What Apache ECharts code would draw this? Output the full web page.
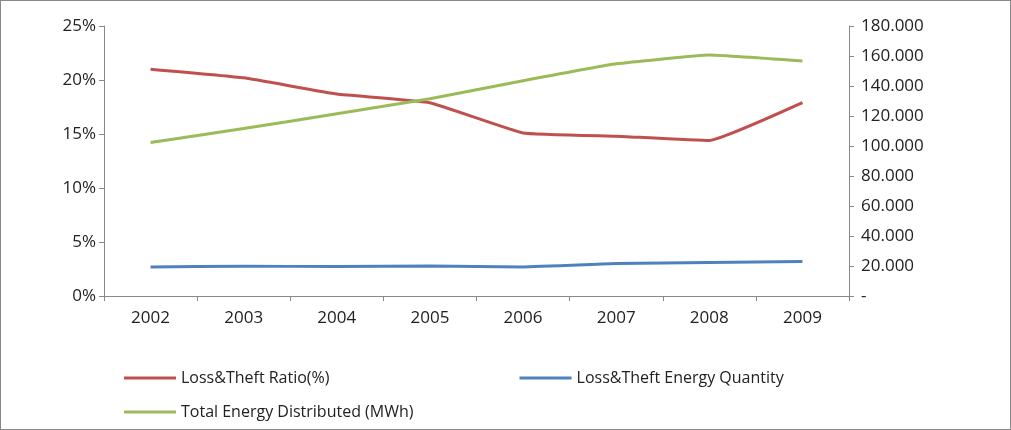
<!DOCTYPE html>
<html>
<head>
<meta charset="utf-8">
<script src="https://cdn.jsdelivr.net/npm/echarts@6/dist/echarts.min.js"></script>
<style>
html,body{margin:0;padding:0;background:#fff;}
#main{width:1011px;height:430px;box-sizing:border-box;border:1px solid #888;}
</style>
</head>
<body>
<div id="main"></div>
<script>
var years = ['2002','2003','2004','2005','2006','2007','2008','2009'];
var lossRatio = [21.0, 20.2, 18.7, 17.9, 15.1, 14.8, 14.4, 17.9];
var lossEnergy = [19300, 19900, 19600, 20000, 19400, 21600, 22400, 23000];
var totalEnergy = [102300, 111600, 121500, 131500, 143500, 154800, 160700, 156700];

var chart = echarts.init(document.getElementById('main'));
var font = 'Open Sans';
chart.setOption({
  textStyle: {fontFamily: font},
  animation: false,
  grid: {left: 103, right: 161, top: 25, bottom: 133},
  legend: [
    {left: 118, top: 364, itemWidth: 52, itemHeight: 3, itemGap: 190, icon: 'rect',
     textStyle: {fontSize: 16, color: '#222'},
     data: ['Loss&Theft Ratio(%)', 'Loss&Theft Energy Quantity']},
    {left: 118, top: 398, itemWidth: 52, itemHeight: 3, icon: 'rect',
     textStyle: {fontSize: 16, color: '#222'},
     data: ['Total Energy Distributed (MWh)']}
  ],
  xAxis: {
    type: 'category', data: years, boundaryGap: true,
    axisLine: {lineStyle: {color: '#888'}},
    axisTick: {show: true, lineStyle: {color: '#888'}},
    axisLabel: {color: '#222', fontSize: 17, margin: 14}
  },
  yAxis: [
    {type: 'value', min: 0, max: 25, interval: 5,
     axisLine: {show: true, lineStyle: {color: '#888'}},
     axisTick: {show: true},
     splitLine: {show: false},
     axisLabel: {color: '#222', fontSize: 17, formatter: '{value}%'}},
    {type: 'value', min: 0, max: 180000, interval: 20000,
     axisLine: {show: true, lineStyle: {color: '#888'}},
     axisTick: {show: true},
     splitLine: {show: false},
     axisLabel: {color: '#222', fontSize: 17, align: 'left', margin: 12,
       formatter: function (v) { return v === 0 ? '-' : (v / 1000).toFixed(3); }}}
  ],
  series: [
    {name: 'Loss&Theft Ratio(%)', type: 'line', yAxisIndex: 0, data: lossRatio,
     smooth: 0.1, symbol: 'none', lineStyle: {color: '#c0504d', width: 3}, itemStyle: {color: '#c0504d'}},
    {name: 'Loss&Theft Energy Quantity', type: 'line', yAxisIndex: 1, data: lossEnergy,
     smooth: 0.1, symbol: 'none', lineStyle: {color: '#4f81bd', width: 3}, itemStyle: {color: '#4f81bd'}},
    {name: 'Total Energy Distributed (MWh)', type: 'line', yAxisIndex: 1, data: totalEnergy,
     smooth: 0.1, symbol: 'none', lineStyle: {color: '#9bbb59', width: 3}, itemStyle: {color: '#9bbb59'}}
  ]
});
</script>
</body>
</html>
